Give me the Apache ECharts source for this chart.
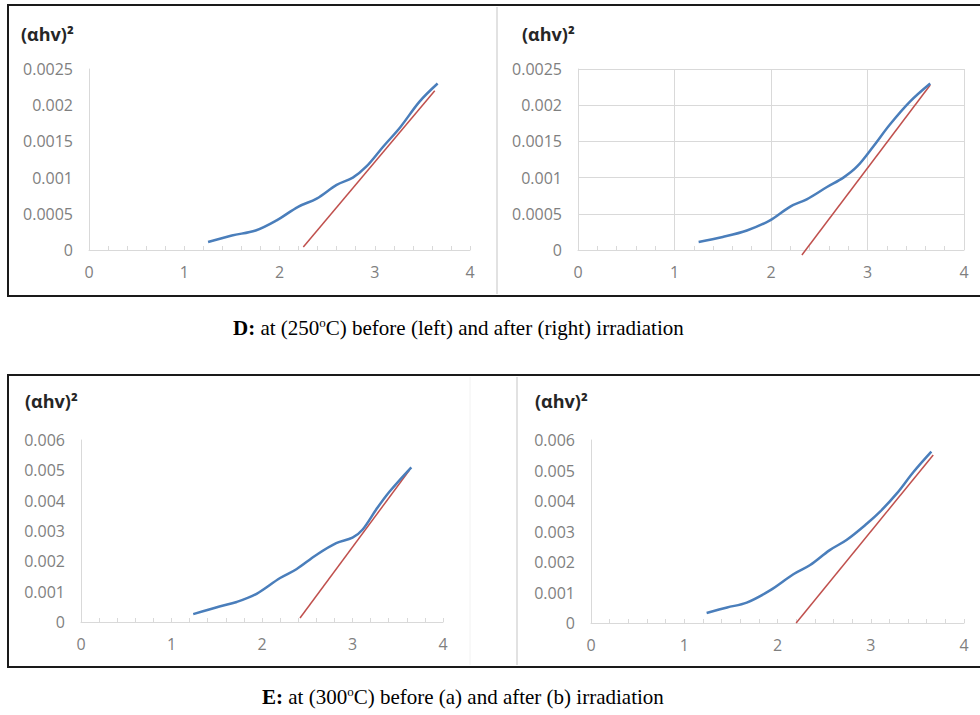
<!DOCTYPE html>
<html>
<head>
<meta charset="utf-8">
<script src="https://cdn.jsdelivr.net/npm/echarts@6/dist/echarts.min.js"></script>
<style>
  html, body { margin: 0; padding: 0; background: #fff; }
  #chart { width: 980px; height: 715px; }
</style>
</head>
<body>
<div id="chart"></div>
<script>
// x axis ticks (photon energy) shared by all panels
const xMin = 0, xMax = 4, xStep = 1;

// D: 250 C, before irradiation
const dBeforeX = [1.25, 1.5, 1.75, 1.97, 2.2, 2.39, 2.6, 2.77, 2.91, 3.09, 3.27, 3.47, 3.66];
const dBeforeY = [0.00011, 0.0002, 0.00027, 0.00041, 0.0006, 0.00071, 0.0009, 0.001, 0.00115, 0.00143, 0.0017, 0.00205, 0.0023];
const dBeforeFitX = [2.25, 3.63];
const dBeforeFitY = [0.00004, 0.0022];

// D: 250 C, after irradiation
const dAfterX = [1.25, 1.5, 1.75, 1.99, 2.2, 2.37, 2.58, 2.75, 2.89, 3.06, 3.23, 3.44, 3.65];
const dAfterY = [0.00011, 0.00018, 0.00027, 0.00041, 0.0006, 0.0007, 0.00087, 0.001, 0.00115, 0.00143, 0.00173, 0.00205, 0.0023];
const dAfterFitX = [2.32, 3.65];
const dAfterFitY = [-0.00007, 0.00228];

// E: 300 C, before (a)
const eBeforeX = [1.24, 1.53, 1.72, 1.94, 2.2, 2.38, 2.6, 2.82, 3.0, 3.11, 3.26, 3.41, 3.65];
const eBeforeY = [0.00026, 0.00051, 0.00066, 0.00093, 0.00145, 0.00174, 0.00221, 0.0026, 0.00278, 0.00304, 0.0037, 0.0043, 0.0051];
const eBeforeFitX = [2.42, 3.63];
const eBeforeFitY = [0.00013, 0.00501];

// E: 300 C, after (b)
const eAfterX = [1.24, 1.46, 1.67, 1.92, 2.17, 2.35, 2.56, 2.74, 2.96, 3.1, 3.28, 3.46, 3.65];
const eAfterY = [0.00033, 0.00051, 0.00067, 0.00107, 0.0016, 0.0019, 0.00239, 0.00272, 0.00326, 0.00365, 0.00425, 0.00496, 0.00562];
const eAfterFitX = [2.2, 3.67];
const eAfterFitY = [0, 0.00551];

const yTitle = '(αhv)²';
const captionD = ['D:', ' at (250', 'o', 'C) before (left) and after (right) irradiation'];
const captionE = ['E:', ' at (300', 'o', 'C) before (a) and after (b) irradiation'];

const pair = (xs, ys) => xs.map((x, i) => [x, ys[i]]);

const BLUE = '#4a7ebb';
const RED = '#c0504d';
const AXIS_GRAY = '#d9d9d9';
const LABEL_GRAY = '#7f7f7f';
const FONT = '"Open Sans", "Liberation Sans", sans-serif';
const SERIF = '"Liberation Serif", "DejaVu Serif", serif';

const grids = [
  { left: 89, right: 510, top: 69, bottom: 465 },
  { left: 578, right: 16, top: 69, bottom: 465 },
  { left: 81, right: 537, top: 440, bottom: 93 },
  { left: 591, right: 16, top: 440, bottom: 92 }
];

function xAxisFor(i, withGrid) {
  return {
    type: 'value', gridIndex: i, min: xMin, max: xMax, interval: xStep,
    axisLine: { show: true, onZero: false, lineStyle: { color: AXIS_GRAY, width: 1 } },
    axisTick: { show: true, inside: true, length: 4, lineStyle: { color: AXIS_GRAY } },
    minorTick: { show: true, splitNumber: 5, length: 4, lineStyle: { color: AXIS_GRAY } },
    axisLabel: { color: LABEL_GRAY, fontSize: 16, fontFamily: FONT, margin: 14 },
    splitLine: { show: withGrid, lineStyle: { color: AXIS_GRAY } }
  };
}

function yAxisFor(i, max, step, withGrid) {
  return {
    type: 'value', gridIndex: i, min: 0, max: max, interval: step,
    axisLine: { show: true, lineStyle: { color: AXIS_GRAY, width: 1 } },
    axisTick: { show: false },
    axisLabel: { color: LABEL_GRAY, fontSize: 16, fontFamily: FONT, margin: 16 },
    splitLine: { show: withGrid, lineStyle: { color: AXIS_GRAY } }
  };
}

function curve(i, xs, ys) {
  return {
    type: 'line', xAxisIndex: i, yAxisIndex: i, data: pair(xs, ys),
    smooth: 0.35, showSymbol: false, symbol: 'none',
    lineStyle: { color: BLUE, width: 2.5 }, z: 3
  };
}

function fit(i, xs, ys) {
  return {
    type: 'line', xAxisIndex: i, yAxisIndex: i, data: pair(xs, ys),
    showSymbol: false, symbol: 'none', clip: false,
    lineStyle: { color: RED, width: 1.5 }, z: 2
  };
}

function caption(parts, x, y) {
  return {
    type: 'text', left: x, top: y,
    style: {
      text: '{b|' + parts[0] + '}{n|' + parts[1] + '}{s|' + parts[2] + '}{n|' + parts[3] + '}',
      rich: {
        b: { fontFamily: SERIF, fontSize: 21, fontWeight: 'bold', fill: '#000' },
        n: { fontFamily: SERIF, fontSize: 21, fill: '#000' },
        s: { fontFamily: SERIF, fontSize: 13, fill: '#000', padding: [0, 0, 10, 0] }
      }
    }
  };
}

const titlePos = [[21, 25], [522, 25], [25, 392], [535, 392]];

const chart = echarts.init(document.getElementById('chart'), null, { renderer: 'svg' });
chart.setOption({
  animation: false,
  backgroundColor: '#fff',
  title: titlePos.map(p => ({
    text: yTitle, left: p[0], top: p[1], padding: 0,
    textStyle: { fontFamily: FONT, fontSize: 18, fontWeight: 'bold', color: '#262626' }
  })),
  grid: grids,
  xAxis: [xAxisFor(0, false), xAxisFor(1, true), xAxisFor(2, false), xAxisFor(3, false)],
  yAxis: [
    yAxisFor(0, 0.0025, 0.0005, false),
    yAxisFor(1, 0.0025, 0.0005, true),
    yAxisFor(2, 0.006, 0.001, false),
    yAxisFor(3, 0.006, 0.001, false)
  ],
  series: [
    fit(0, dBeforeFitX, dBeforeFitY), curve(0, dBeforeX, dBeforeY),
    fit(1, dAfterFitX, dAfterFitY), curve(1, dAfterX, dAfterY),
    fit(2, eBeforeFitX, eBeforeFitY), curve(2, eBeforeX, eBeforeY),
    fit(3, eAfterFitX, eAfterFitY), curve(3, eAfterX, eAfterY)
  ],
  graphic: [
    { type: 'rect', shape: { x: 8, y: 5, width: 980, height: 291 },
      style: { fill: 'none', stroke: '#1a1a1a', lineWidth: 2 } },
    { type: 'rect', shape: { x: 8, y: 375, width: 980, height: 292 },
      style: { fill: 'none', stroke: '#1a1a1a', lineWidth: 2 } },
    { type: 'line', shape: { x1: 497, y1: 7, x2: 497, y2: 294 },
      style: { stroke: '#d9d9d9', lineWidth: 1.5 } },
    { type: 'line', shape: { x1: 470, y1: 377, x2: 470, y2: 665 },
      style: { stroke: '#f2f2f2', lineWidth: 1 } },
    { type: 'line', shape: { x1: 517, y1: 377, x2: 517, y2: 665 },
      style: { stroke: '#d9d9d9', lineWidth: 1.5 } },
    caption(captionD, 233, 316),
    caption(captionE, 262, 685)
  ]
});
</script>
</body>
</html>
